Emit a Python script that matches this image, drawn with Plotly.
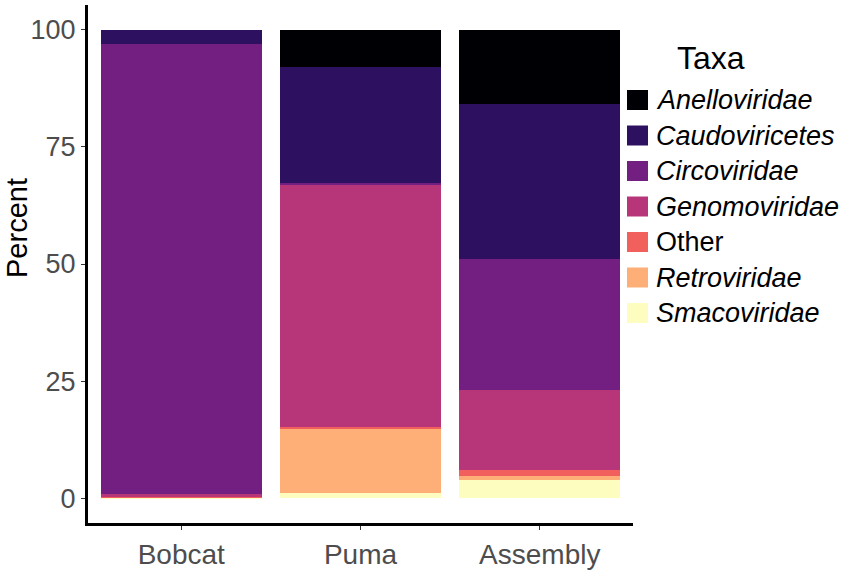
import plotly.graph_objects as go

# Data (percent of reads per sample)
samples = ["Bobcat", "Puma", "Assembly"]
taxa = ["Anelloviridae", "Caudoviricetes", "Circoviridae", "Genomoviridae",
        "Other", "Retroviridae", "Smacoviridae"]
anelloviridae = [0.0, 7.9, 15.8]
caudoviricetes = [3.0, 24.9, 33.1]
circoviridae = [96.2, 0.3, 28.0]
genomoviridae = [0.4, 51.6, 17.1]
other = [0.3, 0.45, 1.2]
retroviridae = [0.0, 13.85, 0.9]
smacoviridae = [0.1, 1.0, 3.9]
y_ticks = [0, 25, 50, 75, 100]

values = [anelloviridae, caudoviricetes, circoviridae, genomoviridae,
          other, retroviridae, smacoviridae]
# magma palette, 7 levels
colors = ["#000004", "#2D1160", "#721F81", "#B63679",
          "#F1605D", "#FEAF77", "#FCFDBF"]

W, H = 851, 577
L, R, T, B = 88, 218, 5, 54
plot_w = W - L - R
plot_h = H - T - B


def px_x(x):
    return (x - L) / plot_w


def px_y(y):
    return (H - B - y) / plot_h


fig = go.Figure()

# ggplot stacks the first level on top, plotly stacks first trace at bottom
for name, vals, col in reversed(list(zip(taxa, values, colors))):
    fig.add_trace(go.Bar(
        x=samples,
        y=vals,
        name=name,
        marker=dict(color=col, line=dict(width=0)),
        showlegend=False,
    ))

# y axis title placed by hand (sits above the panel centre in the original)
fig.add_annotation(
    x=px_x(17), y=px_y(228), xref="paper", yref="paper",
    text="Percent", showarrow=False, textangle=-90,
    xanchor="center", yanchor="middle",
    font=dict(size=29, color="black"),
)

# hand-built legend so the keys are as big as in the original
fig.add_annotation(
    x=px_x(675), y=px_y(58), xref="paper", yref="paper",
    text="Taxa", showarrow=False, xanchor="left", yanchor="middle",
    font=dict(size=32, color="black"),
)
for i, (name, col) in enumerate(zip(taxa, colors)):
    yc = 100 + i * 35.5
    fig.add_shape(
        type="rect", xref="paper", yref="paper",
        x0=px_x(627), x1=px_x(648), y0=px_y(yc - 10), y1=px_y(yc + 10),
        fillcolor=col, line=dict(width=0),
    )
    label = name if name == "Other" else f"<i>{name}</i>"
    fig.add_annotation(
        x=px_x(654), y=px_y(yc), xref="paper", yref="paper",
        text=label, showarrow=False, xanchor="left", yanchor="middle",
        font=dict(size=27, color="black"),
    )

fig.update_layout(
    barmode="stack",
    bargap=0.1,
    width=W,
    height=H,
    margin=dict(l=L, r=R, t=T, b=B),
    paper_bgcolor="white",
    plot_bgcolor="white",
    font=dict(family="Liberation Sans, Arial, sans-serif", color="black"),
    xaxis=dict(
        range=[-0.52, 2.52],
        showline=True, linecolor="black", linewidth=3,
        ticks="outside", ticklen=4, tickcolor="#333333",
        tickfont=dict(size=28, color="#4D4D4D"),
        showgrid=False, zeroline=False,
    ),
    yaxis=dict(
        range=[-5.3, 105.3],
        tickvals=y_ticks,
        showline=True, linecolor="black", linewidth=3,
        ticks="outside", ticklen=4, tickcolor="#333333",
        tickfont=dict(size=27, color="#4D4D4D"),
        showgrid=False, zeroline=False,
    ),
)

# drop the default page margin so the figure sits at the window's corner
fig.write_html(
    "out.html",
    config={"displayModeBar": False},
    post_script="document.body.style.margin='0';",
)
